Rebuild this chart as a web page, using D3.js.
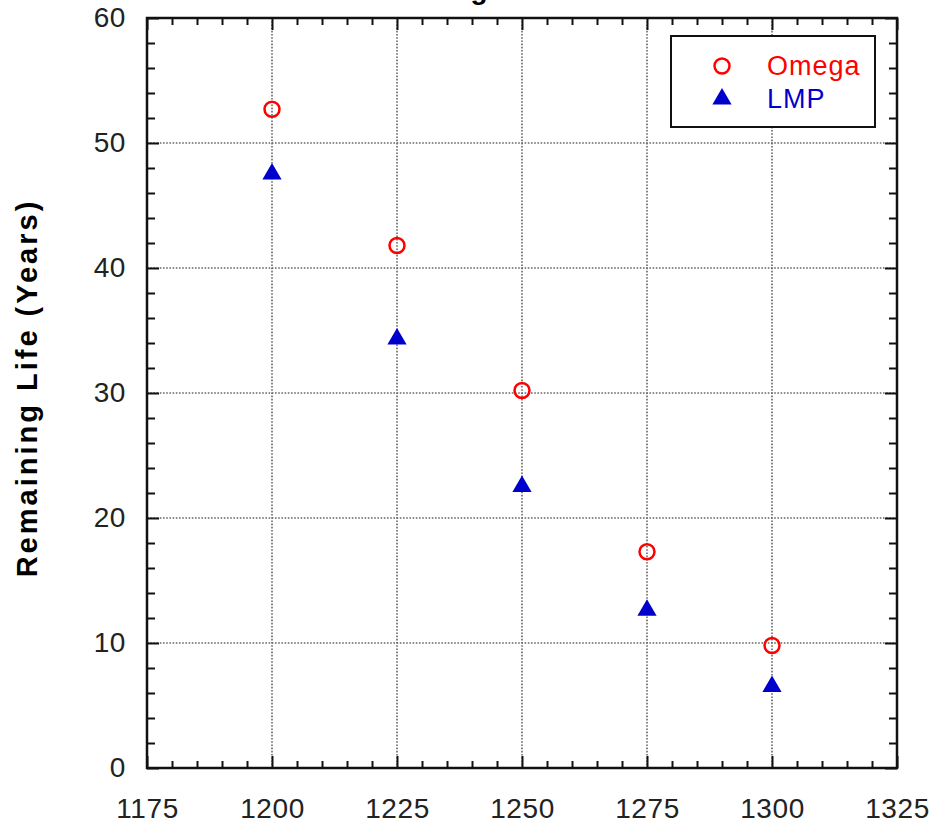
<!DOCTYPE html>
<html>
<head>
<meta charset="utf-8">
<script src="https://cdn.jsdelivr.net/npm/d3@7"></script>
<style>
  body { margin: 0; background: #fff; }
  svg { display: block; font-family: "Liberation Sans", Arial, sans-serif; }
</style>
</head>
<body>
<div class="canvas"></div>
<script>
/* ----------- DATA ----------- */
const temps = [1200, 1225, 1250, 1275, 1300];
const omega = [52.7, 41.8, 30.2, 17.3, 9.8];
const lmp = [47.6, 34.4, 22.6, 12.7, 6.6];
const xTicks = [1175, 1200, 1225, 1250, 1275, 1300, 1325];
const yTicks = [0, 10, 20, 30, 40, 50, 60];
const seriesNames = ['Omega', 'LMP'];

/* ----------- CONTAINER ----------- */
const svg = d3.select('.canvas')
    .append('svg')
    .attr('width', 944)
    .attr('height', 827);

const margin = { top: 18, left: 147 };
const graphWidth = 750;
const graphHeight = 750;

const graph = svg.append('g')
    .attr('transform', `translate(${margin.left},${margin.top})`);

/* ----------- SCALES ----------- */
const x = d3.scaleLinear().domain([1175, 1325]).range([0, graphWidth]);
const y = d3.scaleLinear().domain([0, 60]).range([graphHeight, 0]);

const xMinor = d3.range(1175, 1326, 5).filter(v => !xTicks.includes(v));
const yMinor = d3.range(0, 61, 2).filter(v => !yTicks.includes(v));

// dotted grid at inner major ticks
const gridX = xTicks.slice(1, -1);
const gridY = yTicks.slice(1, -1);
graph.append('g').selectAll('line')
    .data(gridX).enter().append('line')
    .attr('x1', d => x(d)).attr('x2', d => x(d))
    .attr('y1', 0).attr('y2', graphHeight)
    .attr('stroke', '#666').attr('stroke-width', 1.6)
    .attr('stroke-dasharray', '1.6,1.6');
graph.append('g').selectAll('line')
    .data(gridY).enter().append('line')
    .attr('y1', d => y(d)).attr('y2', d => y(d))
    .attr('x1', 0).attr('x2', graphWidth)
    .attr('stroke', '#666').attr('stroke-width', 1.6)
    .attr('stroke-dasharray', '1.6,1.6');

/* ----------- AXES ----------- */
const styleAxis = g => {
    g.select('.domain').remove();
    g.selectAll('line').attr('stroke', '#111').attr('stroke-width', 2);
    g.selectAll('text').attr('fill', '#222')
        .style('font-size', '28px').style('letter-spacing', '0.6px');
};

graph.append('g')
    .attr('transform', `translate(0,${graphHeight})`)
    .call(d3.axisBottom(x).tickValues(xTicks).tickSize(-12).tickPadding(30).tickFormat(d3.format('d')))
    .call(styleAxis);
graph.append('g')
    .attr('transform', `translate(0,${graphHeight})`)
    .call(d3.axisBottom(x).tickValues(xMinor).tickSize(-7).tickFormat(''))
    .call(styleAxis);
graph.append('g')
    .call(d3.axisTop(x).tickValues(xTicks).tickSize(-12).tickFormat(''))
    .call(styleAxis);
graph.append('g')
    .call(d3.axisTop(x).tickValues(xMinor).tickSize(-7).tickFormat(''))
    .call(styleAxis);

graph.append('g')
    .call(d3.axisLeft(y).tickValues(yTicks).tickSize(-12).tickPadding(21))
    .call(styleAxis);
graph.append('g')
    .call(d3.axisLeft(y).tickValues(yMinor).tickSize(-8).tickFormat(''))
    .call(styleAxis);
graph.append('g')
    .attr('transform', `translate(${graphWidth},0)`)
    .call(d3.axisRight(y).tickValues(yTicks).tickSize(-12).tickFormat(''))
    .call(styleAxis);
graph.append('g')
    .attr('transform', `translate(${graphWidth},0)`)
    .call(d3.axisRight(y).tickValues(yMinor).tickSize(-8).tickFormat(''))
    .call(styleAxis);

// frame
graph.append('rect')
    .attr('width', graphWidth).attr('height', graphHeight)
    .attr('fill', 'none').attr('stroke', '#111').attr('stroke-width', 2.5);

/* ----------- MARKS ----------- */
const tri = d3.symbol().type(d3.symbolTriangle).size(160);

graph.append('g').selectAll('circle')
    .data(temps).enter().append('circle')
    .attr('cx', d => x(d))
    .attr('cy', (d, i) => y(omega[i]))
    .attr('r', 7.5)
    .attr('fill', 'none').attr('stroke', '#ff0000').attr('stroke-width', 2.5);

graph.append('g').selectAll('path')
    .data(temps).enter().append('path')
    .attr('d', tri)
    .attr('transform', (d, i) => `translate(${x(d)},${y(lmp[i]) + 1})`)
    .attr('fill', '#0000cc');

/* ----------- LEGEND ----------- */
const legend = svg.append('g').attr('transform', 'translate(671,36)');
legend.append('rect')
    .attr('width', 204).attr('height', 91)
    .attr('fill', '#fff').attr('stroke', '#111').attr('stroke-width', 2);
legend.append('circle')
    .attr('cx', 51).attr('cy', 30).attr('r', 7.5)
    .attr('fill', 'none').attr('stroke', '#ff0000').attr('stroke-width', 2.5);
legend.append('path')
    .attr('d', tri)
    .attr('transform', 'translate(51,63)')
    .attr('fill', '#0000cc');
legend.selectAll('text')
    .data(seriesNames).enter().append('text')
    .attr('x', 96)
    .attr('y', (d, i) => 39 + i * 33)
    .attr('fill', (d, i) => i === 0 ? '#ff0000' : '#0000cc')
    .style('font-size', '27px')
    .style('letter-spacing', '1px')
    .text(d => d);

/* ----------- LABELS ----------- */
svg.append('text')
    .attr('transform', 'translate(37,388) rotate(-90)')
    .attr('text-anchor', 'middle')
    .attr('fill', '#000')
    .style('font-size', '29px')
    .style('font-weight', 'bold')
    .style('letter-spacing', '3px')
    .text('Remaining Life (Years)');

// title sits mostly above the visible area, only the descender shows
const title = svg.append('text')
    .attr('x', 0).attr('y', -1)
    .attr('fill', '#000')
    .style('font-size', '28px')
    .style('font-weight', 'bold')
    .text('Remaining Life Prediction');
const gi = title.text().indexOf('g');
const gx = title.node().getStartPositionOfChar(gi).x + title.node().getSubStringLength(gi, 1) / 2;
title.attr('x', 479 - gx);
</script>
</body>
</html>
